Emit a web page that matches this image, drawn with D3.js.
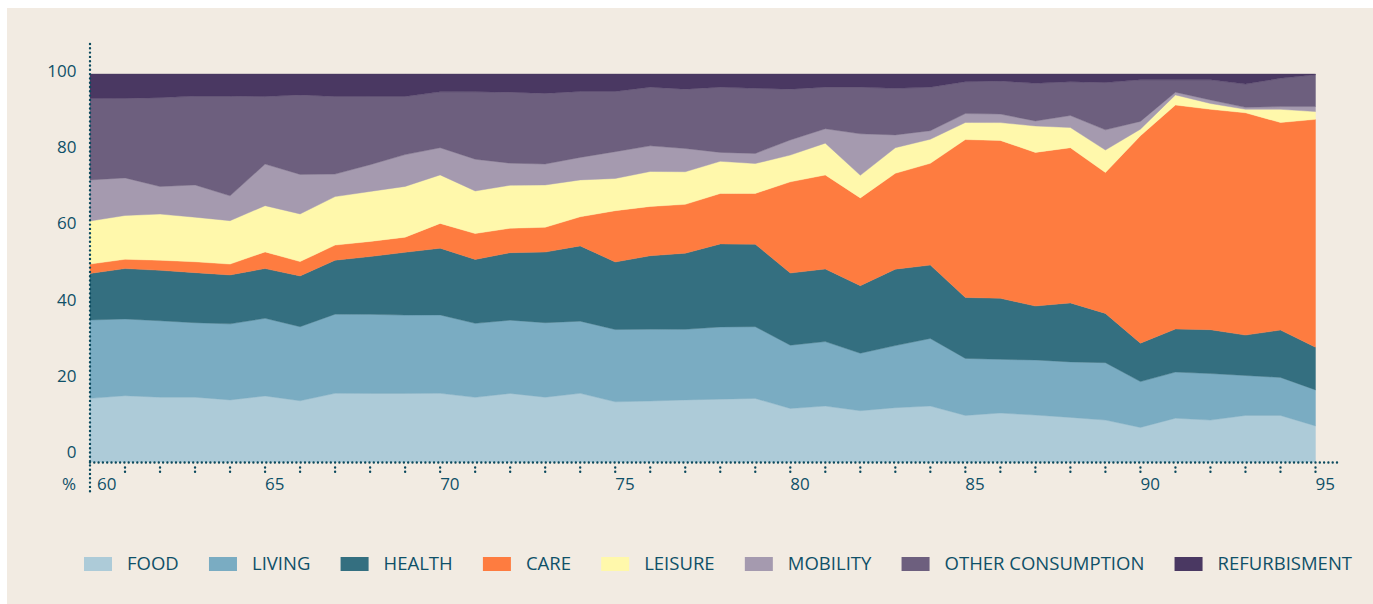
<!DOCTYPE html>
<html><head><meta charset="utf-8">
<script src="https://cdn.jsdelivr.net/npm/d3@7/dist/d3.min.js"></script>
<style>
html,body{margin:0;padding:0;background:#ffffff;}
svg{display:block;}
text{font-family:"Open Sans","Noto Sans",sans-serif;}
</style></head><body>
<svg id="chart" width="1373" height="604"></svg>
<script>
// ---- data ----
const years = [60,61,62,63,64,65,66,67,68,69,70,71,72,73,74,75,76,77,78,79,80,81,82,83,84,85,86,87,88,89,90,91,92,93,94,95];
const categories = ["FOOD","LIVING","HEALTH","CARE","LEISURE","MOBILITY","OTHER CONSUMPTION","REFURBISMENT"];
const colors = ["#adcbd8","#7aacc2","#346f80","#fe7c40","#fff8ab","#a59aaf","#6d5f7e","#4a3862"];
const food     = [16.4,17.1,16.7,16.7,16.0,17.0,15.8,17.7,17.7,17.7,17.7,16.7,17.7,16.7,17.7,15.5,15.7,16.0,16.2,16.4,13.8,14.4,13.2,14.0,14.4,12.0,12.6,12.1,11.5,10.8,8.9,11.3,10.8,12.0,12.0,9.3];
const living   = [20.2,19.8,19.7,19.2,19.6,20.0,19.1,20.4,20.4,20.2,20.2,19.1,18.9,19.2,18.6,18.6,18.5,18.2,18.6,18.5,16.3,16.6,14.8,16.0,17.4,14.7,13.8,14.2,14.3,14.8,11.8,11.9,12.0,10.3,9.8,9.3];
const health   = [12.0,13.0,13.0,12.9,12.6,12.8,13.1,13.9,14.9,16.2,17.2,16.5,17.4,18.2,19.4,17.4,18.9,19.6,21.4,21.3,18.6,18.7,17.4,19.7,18.9,15.7,15.7,13.9,15.2,12.7,9.9,11.1,11.3,10.4,12.2,11.0];
const care     = [2.4,2.4,2.6,2.8,2.8,4.3,3.7,3.9,3.9,3.9,6.4,6.7,6.3,6.4,7.5,13.2,12.7,12.6,13.0,13.1,23.5,24.2,22.6,24.7,26.2,40.7,40.6,39.6,40.0,36.3,53.4,57.8,56.8,57.3,53.5,58.8];
const leisure  = [11.1,11.3,11.9,11.5,11.2,11.9,12.3,12.5,12.9,13.1,12.5,11.0,11.1,10.9,9.5,8.3,9.0,8.4,8.3,7.7,6.9,8.2,5.8,6.6,6.2,4.4,4.6,6.8,5.2,5.8,1.7,2.6,1.5,0.9,3.4,2.0];
const mobility = [10.6,9.7,7.1,8.3,6.4,10.7,10.2,5.8,6.9,8.2,7.0,8.2,5.7,5.4,5.8,6.9,6.6,6.0,2.3,2.6,3.9,3.7,10.7,3.3,2.2,2.3,2.2,1.3,3.1,5.2,2.0,0.7,0.9,0.5,0.7,1.3];
const other    = [21.0,20.5,22.9,22.9,25.7,17.4,20.5,20.0,17.6,15.0,14.4,17.4,18.3,18.2,17.0,15.5,15.1,15.3,16.8,16.8,13.1,10.7,12.0,12.0,11.2,8.2,8.5,9.7,8.7,12.2,10.7,3.2,5.2,6.0,7.3,8.2];
const refurb   = [6.3,6.3,6.1,5.7,5.7,5.8,5.4,5.8,5.8,5.8,4.6,4.6,4.7,5.0,4.5,4.5,3.4,3.9,3.4,3.7,3.9,3.4,3.4,3.7,3.4,2.0,1.8,2.4,2.0,2.2,1.5,1.5,1.5,2.6,1.1,0.2];
const xTickLabels = ["60","65","70","75","80","85","90","95"];
const yTickLabels = ["0","20","40","60","80","100"];

const seriesArrays = [food,living,health,care,leisure,mobility,other,refurb];

// ---- layout ----
const svg = d3.select("#chart");
const BG = "#f2ebe2", INK = "#0f5068", DOT = "#0b4a5e";
svg.append("rect").attr("x",7).attr("y",8).attr("width",1366).attr("height",596).attr("fill",BG);

const x = d3.scaleLinear().domain([60,95]).range([90,1315.5]);
const y = d3.scaleLinear().domain([0,1]).range([462,74]);
const yLabel = d3.scaleLinear().domain([0,100]).range([458.3,76.7]);

const rows = years.map((yr,i)=>{
  const r = {year:yr};
  categories.forEach((c,k)=>{ r[c] = seriesArrays[k][i]; });
  return r;
});
const stack = d3.stack().keys(categories).offset(d3.stackOffsetExpand);
const layers = stack(rows);
const area = d3.area().x(d=>x(d.data.year)).y0(d=>y(d[0])).y1(d=>y(d[1]));

svg.append("g").selectAll("path").data(layers).join("path")
  .attr("d",area).attr("fill",(d,i)=>colors[i]).attr("stroke",(d,i)=>colors[i]).attr("stroke-width",0.4);

// ---- axes (dotted) ----
const ax = svg.append("g").attr("stroke",DOT).attr("stroke-width",2.4).attr("stroke-linecap","round").attr("stroke-dasharray","0 4.3");
ax.append("line").attr("x1",90).attr("x2",1341).attr("y1",462.5).attr("y2",462.5);
ax.append("line").attr("x1",90).attr("x2",90).attr("y1",44).attr("y2",492);
ax.selectAll("line.tick").data(years.filter(d=>d>60)).join("line").attr("class","tick")
  .attr("x1",d=>x(d)).attr("x2",d=>x(d)).attr("y1",467.5).attr("y2",473);

// x labels
svg.append("g").selectAll("text").data(xTickLabels).join("text")
  .attr("x",d=> x(+d) + (d==="60"?7:0)).attr("y",490)
  .attr("font-size",17).attr("fill",INK).text(d=>d);
svg.append("text").attr("x",62).attr("y",490).attr("font-size",17).attr("fill",INK).text("%");

// y labels
svg.append("g").selectAll("text").data(yTickLabels).join("text")
  .attr("x",76.5).attr("y",d=>yLabel(+d)).attr("text-anchor","end")
  .attr("font-size",17).attr("fill",INK).text(d=>d);

// ---- legend ----
const lg = svg.append("g");
const items = lg.selectAll("g").data(categories).join("g");
items.append("rect").attr("width",28).attr("height",14).attr("y",557).attr("fill",(d,i)=>colors[i]);
items.append("text").attr("y",570).attr("font-size",18.5).attr("fill",INK).text(d=>d);
const widths = [];
items.select("text").each(function(){ widths.push(this.getComputedTextLength()); });
const startX = 84, endX = 1352, sw = 28, pad = 15;
const used = widths.reduce((a,b)=>a+b,0) + categories.length*(sw+pad);
const gap = (endX - startX - used)/(categories.length-1);
let cx = startX;
items.each(function(d,i){
  const g = d3.select(this);
  g.select("rect").attr("x",cx);
  g.select("text").attr("x",cx+sw+pad);
  cx += sw+pad+widths[i]+gap;
});
</script>
</body></html>
